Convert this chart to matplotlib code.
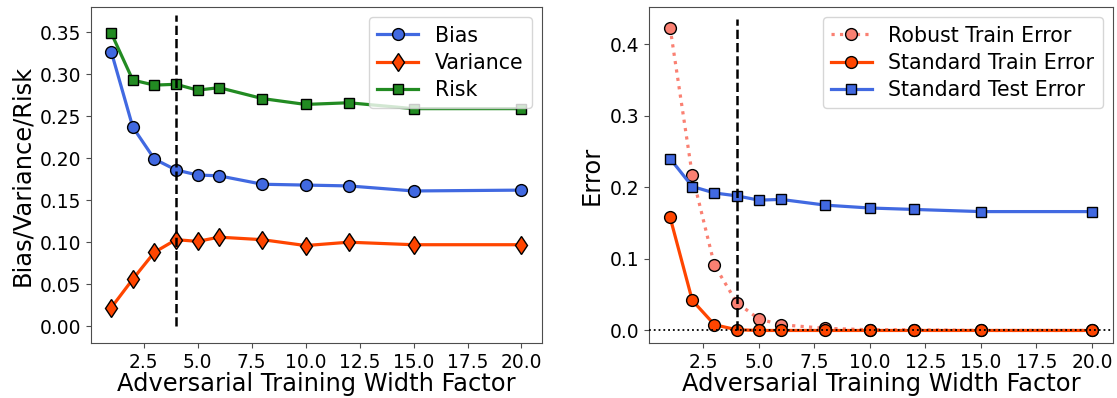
import matplotlib
matplotlib.use("Agg")
import matplotlib.pyplot as plt

width_factor = [1, 2, 3, 4, 5, 6, 8, 10, 12, 15, 20]

bias = [0.327, 0.237, 0.199, 0.186, 0.180, 0.179, 0.169, 0.168, 0.167, 0.161, 0.162]
variance = [0.022, 0.056, 0.088, 0.103, 0.101, 0.106, 0.103, 0.096, 0.100, 0.097, 0.097]
risk = [0.349, 0.293, 0.287, 0.288, 0.281, 0.284, 0.271, 0.264, 0.266, 0.259, 0.259]

robust_train_err = [0.423, 0.217, 0.091, 0.039, 0.016, 0.008, 0.003, 0.001, 0.001, 0.0, 0.0]
std_train_err = [0.158, 0.042, 0.008, 0.001, 0.0, 0.0, 0.0, 0.0, 0.0, 0.0, 0.0]
std_test_err = [0.240, 0.201, 0.192, 0.188, 0.182, 0.183, 0.175, 0.171, 0.169, 0.166, 0.166]

marker_width = 4

plt.rcParams['font.family'] = ['DejaVu Sans']
TICK_FS = 13.4
LABEL_FS = 17.4
LEG_FS = 14.8
SPINE_C = '0.3'

fig = plt.figure(figsize=(11.17, 3.98), dpi=100)
W, H = 1117, 398
ax1 = fig.add_axes([90.7 / W, (H - 343) / H, (542 - 90.7) / W, (343 - 7) / H])
ax2 = fig.add_axes([649 / W, (H - 343) / H, (1113 - 649) / W, (343 - 7) / H])

lw = 2.3
mkw = dict(markeredgecolor='black', markeredgewidth=1.0)

ax1.plot(width_factor, bias, '-o', color='royalblue', lw=lw, ms=8.5, label='Bias', **mkw)
ax1.plot(width_factor, variance, '-d', color='orangered', lw=lw, ms=9.5, label='Variance', **mkw)
ax1.plot(width_factor, risk, '-s', color='forestgreen', lw=lw, ms=7.5, label='Risk', **mkw)
ax1.vlines(marker_width, 0, 0.371, colors='black', linestyles='--', lw=1.8)
ax1.set_xlim(0.05, 20.95)
ax1.set_ylim(-0.020, 0.380)
ax1.set_yticks([0.0, 0.05, 0.10, 0.15, 0.20, 0.25, 0.30, 0.35])
ax1.set_xticks([2.5, 5.0, 7.5, 10.0, 12.5, 15.0, 17.5, 20.0])
ax1.set_ylabel('Bias/Variance/Risk', fontsize=LABEL_FS)
ax1.set_xlabel('Adversarial Training Width Factor', fontsize=LABEL_FS, labelpad=0.5)
ax1.legend(loc='upper right', fontsize=LEG_FS, numpoints=1, labelspacing=0.35)

ax2.plot(width_factor, robust_train_err, ':o', color='salmon', lw=lw, ms=8.5, label='Robust Train Error', **mkw)
ax2.plot(width_factor, std_train_err, '-o', color='orangered', lw=lw, ms=8.5, label='Standard Train Error', **mkw)
ax2.plot(width_factor, std_test_err, '-s', color='royalblue', lw=lw, ms=7.5, label='Standard Test Error', **mkw)
ax2.vlines(marker_width, 0, 0.435, colors='black', linestyles='--', lw=1.8)
ax2.axhline(0, color='black', ls=':', lw=1.3, zorder=5)
ax2.set_xlim(0.05, 20.95)
ax2.set_ylim(-0.0175, 0.4517)
ax2.set_yticks([0.0, 0.1, 0.2, 0.3, 0.4])
ax2.set_xticks([2.5, 5.0, 7.5, 10.0, 12.5, 15.0, 17.5, 20.0])
ax2.set_ylabel('Error', fontsize=LABEL_FS)
ax2.set_xlabel('Adversarial Training Width Factor', fontsize=LABEL_FS, labelpad=0.5)
ax2.legend(loc='upper right', fontsize=LEG_FS, numpoints=1, labelspacing=0.35)

for ax in (ax1, ax2):
    ax.tick_params(labelsize=TICK_FS, color=SPINE_C)
    for sp in ax.spines.values():
        sp.set_color(SPINE_C)

fig.savefig('out.png', dpi=100)
